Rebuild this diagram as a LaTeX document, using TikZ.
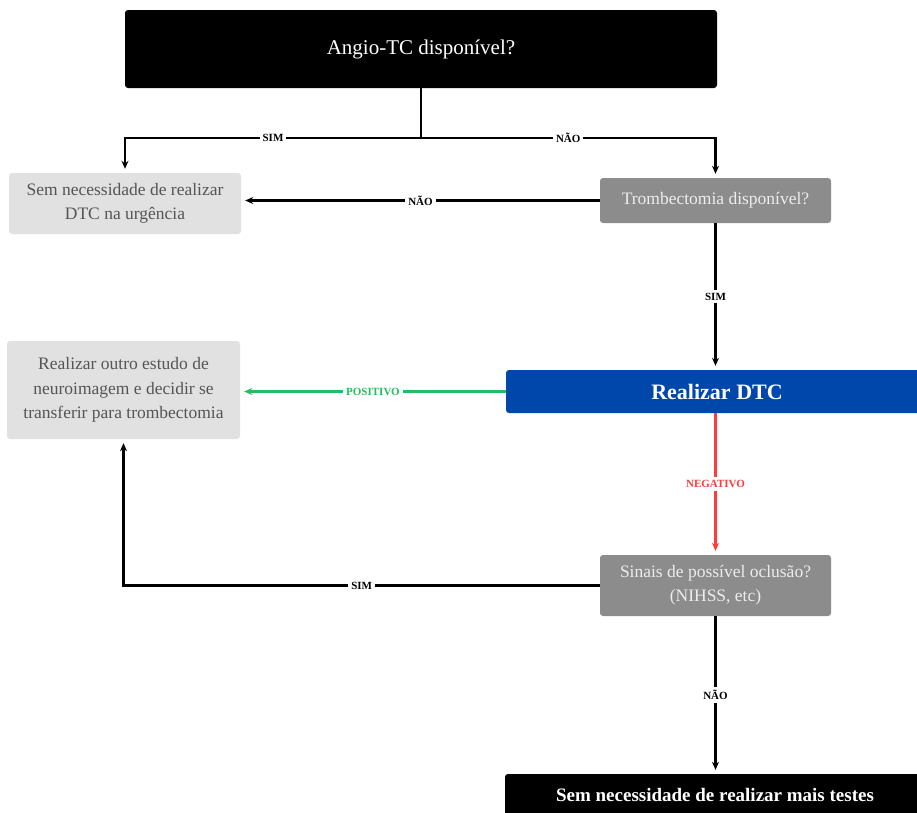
\documentclass[tikz,border=0pt]{standalone}
\usepackage{fontspec}
\setmainfont{Liberation Serif}
\usepackage{tikz}
\usetikzlibrary{arrows.meta}

\definecolor{boxlight}{HTML}{E1E1E1}
\definecolor{boxmid}{HTML}{8C8C8C}
\definecolor{txtdark}{HTML}{555555}
\definecolor{dtcblue}{HTML}{0047AB}
\definecolor{posgreen}{RGB}{34,190,95}
\definecolor{negred}{HTML}{FF3B3B}

\begin{document}
\begin{tikzpicture}[x=1pt,y=-1pt,
  base/.style={rounded corners=3pt, align=center, inner sep=0pt},
  blackbox/.style={base, fill=black, text=white},
  lightbox/.style={base, fill=boxlight, text=txtdark, font=\fontsize{17.5}{24.5}\selectfont},
  midbox/.style={base, fill=boxmid, text=white!93!black, font=\fontsize{17.5}{24.5}\selectfont},
  conn/.style={line width=2.2pt, -{Stealth[length=8pt,width=7pt]}, shorten >=4pt},
  lbl/.style={fill=white, inner sep=3pt, font=\bfseries\fontsize{11}{12}\selectfont}]
\path[use as bounding box, clip] (0,0) rectangle (917,812);
%
\node[blackbox, minimum width=592pt, minimum height=78pt, font=\fontsize{21}{24}\selectfont] (angio) at (421,49) {Angio-TC disponível?};
\node[lightbox, minimum width=232pt, minimum height=61pt] (semdtc) at (125,203.5) {Sem necessidade de realizar\\DTC na urgência};
\node[midbox, minimum width=231pt, minimum height=45pt] (tromb) at (715.5,200.5) {Trombectomia disponível?};
\node[lightbox, minimum width=233pt, minimum height=98pt] (outro) at (123.5,390) {Realizar outro estudo de\\neuroimagem e decidir se\\transferir para trombectomia};
\node[base, fill=dtcblue, text=white, minimum width=422pt, minimum height=43pt, font=\bfseries\fontsize{22}{26}\selectfont] (dtc) at (717,391.5) {Realizar DTC};
\node[midbox, minimum width=231pt, minimum height=61pt] (sinais) at (715.5,585.5) {Sinais de possível oclusão?\\(NIHSS, etc)};
\node[blackbox, minimum width=420pt, minimum height=42pt, font=\bfseries\fontsize{19}{22}\selectfont] (fim) at (715,795) {Sem necessidade de realizar mais testes};
%
\coordinate (fork) at (421,138);
\draw[line width=2.2pt] (angio.south) -- (fork);
\draw[conn] (fork) -| node[lbl, pos=0.25] {SIM} (semdtc.north);
\draw[conn] (fork) -| node[lbl, pos=0.25] {NÃO} (tromb.north);
\draw[conn] (tromb.west) -- node[lbl] {NÃO} (tromb.west -| semdtc.east);
\draw[conn] (tromb.south) -- node[lbl] {SIM} (tromb.south |- dtc.north);
%
\draw[conn, posgreen] (dtc.west) -- node[lbl] {POSITIVO} (dtc.west -| outro.east);
\draw[conn, negred] (tromb.south |- dtc.south) -- node[lbl] {NEGATIVO} (sinais.north);
%
\draw[conn] (sinais.west) -| node[lbl, pos=0.25] {SIM} (outro.south);
\draw[conn] (sinais.south) -- node[lbl] {NÃO} (sinais.south |- fim.north);
\end{tikzpicture}
\end{document}
